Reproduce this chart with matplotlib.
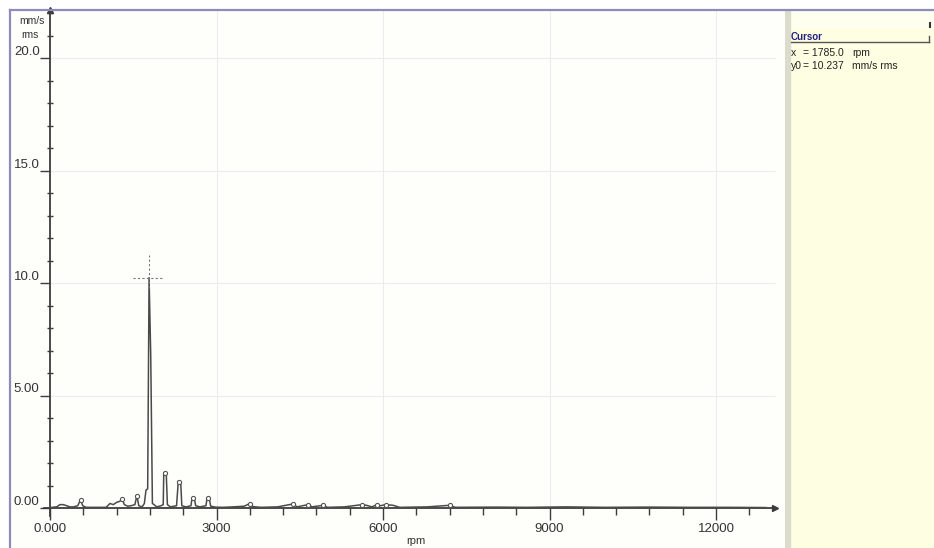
import numpy as np
import matplotlib
matplotlib.use("Agg")
import matplotlib.pyplot as plt
from matplotlib.lines import Line2D

plt.rcParams['font.family'] = ['Liberation Sans', 'DejaVu Sans']
plt.rcParams['ytick.alignment'] = 'bottom'

# ---- spectrum data (rpm vs. mm/s rms) ----
rpm = [0, 120, 180, 240, 300, 360, 420, 500, 550, 590, 650, 1000,
       1020, 1080, 1140, 1200, 1260, 1300, 1340, 1400, 1460, 1530, 1565, 1600,
       1660, 1700, 1730, 1760, 1785, 1815, 1845, 1875, 1920, 2000, 2040, 2050,
       2095, 2115, 2170, 2280, 2312, 2355, 2375, 2450, 2540, 2560, 2600, 2625,
       2700, 2810, 2830, 2870, 2895, 2980, 3100, 3300, 3500, 3600, 3660, 3800,
       4100, 4380, 4450, 4650, 4720, 4920, 5000, 5300, 5530, 5620, 5700, 5800,
       5890, 5950, 6050, 6180, 6300, 6800, 7200, 7300, 8000, 8600, 9300, 10000,
       10800, 11500, 12200, 12900]
amp = [0.02, 0.05, 0.15, 0.15, 0.10, 0.05, 0.05, 0.10, 0.37, 0.10, 0.03, 0.03,
       0.05, 0.20, 0.15, 0.25, 0.30, 0.40, 0.15, 0.08, 0.10, 0.15, 0.55, 0.10,
       0.05, 0.20, 0.80, 0.85, 10.237, 6.80, 0.20, 0.15, 0.05, 0.10, 0.15, 1.57,
       1.52, 0.15, 0.05, 0.10, 1.20, 1.15, 0.10, 0.05, 0.10, 0.45, 0.44, 0.10,
       0.05, 0.10, 0.44, 0.42, 0.08, 0.04, 0.03, 0.05, 0.08, 0.20, 0.06, 0.03,
       0.05, 0.18, 0.05, 0.15, 0.05, 0.12, 0.03, 0.05, 0.12, 0.15, 0.12, 0.05,
       0.15, 0.10, 0.15, 0.12, 0.03, 0.05, 0.12, 0.03, 0.04, 0.03, 0.05, 0.03,
       0.04, 0.03, 0.03, 0.02]
peak_marks = [550, 1300, 1565, 2072, 2333, 2580, 2850, 3600, 4380, 4650,
              4920, 5620, 5890, 6050, 7200]

cursor_rpm = 1785.0
cursor_amp = 10.237

x_major = [0, 3000, 6000, 9000, 12000]
x_major_labels = ['0.000', '3000', '6000', '9000', '12000']
y_major = [0, 5, 10, 15, 20]
y_major_labels = ['0.00', '5.00', '10.0', '15.0', '20.0']
x_unit = 'rpm'
y_unit = ['mm/s', 'rms']

# ---- figure layout (pixel based) ----
W, H = 934, 548
fig = plt.figure(figsize=(W / 100, H / 100), dpi=100, facecolor='white')

def fx(px):
    return px / W

def fy(py):
    return 1 - py / H

plot_left, plot_right, top = 10, 785, 10
ax = fig.add_axes([fx(plot_left), 0, fx(plot_right - plot_left), fy(top)])
ax.set_facecolor('#fefefa')

# scale: x=0 at px 50, 55.5 px per 1000 rpm; y=0 at px 508, 22.5 px per unit
x0_px, kx = 50, 55.5 / 1000
y0_px, ky = 508, 22.5
ax.set_xlim((plot_left - x0_px) / kx, (plot_right - x0_px) / kx)
ax.set_ylim((y0_px - H) / ky, (y0_px - top) / ky)
xmax_axis = 13060
ymax_axis = (y0_px - top) / ky

# light grid
ax.vlines(x_major[1:], 0, ymax_axis, color='#ececec', lw=0.8, zorder=0)
ax.hlines(y_major[1:], 0, xmax_axis, color='#ececec', lw=0.8, zorder=0)

# axes through origin
axis_col = '#3c3c3c'
for s in ['top', 'right']:
    ax.spines[s].set_visible(False)
ax.spines['left'].set_position(('data', 0))
ax.spines['bottom'].set_position(('data', 0))
ax.spines['left'].set_bounds(-0.35, ymax_axis)
ax.spines['bottom'].set_bounds(-100, xmax_axis)
for s in ['left', 'bottom']:
    ax.spines[s].set_color(axis_col)
    ax.spines[s].set_linewidth(1.3)
ax.plot([xmax_axis], [0], marker='>', ms=4.5, color=axis_col, clip_on=False, zorder=5)
ax.plot([0], [ymax_axis], marker='^', ms=4.5, color=axis_col, clip_on=False, zorder=5)

ax.set_xticks(x_major, x_major_labels)
ax.set_xticks(np.arange(0, 12601, 600), minor=True)
ax.set_yticks(y_major, y_major_labels)
ax.set_yticks(np.arange(0, 23, 1), minor=True)
ax.tick_params(axis='x', which='major', direction='out', length=8.5, width=1,
               color=axis_col, pad=2, labelsize=9.5, labelcolor='#333333')
ax.tick_params(axis='x', which='minor', direction='out', length=5, width=1,
               color=axis_col)
ax.tick_params(axis='y', which='major', direction='out', length=7.5, width=1,
               color=axis_col, pad=0, labelsize=9.5, labelcolor='#333333')
ax.tick_params(axis='y', which='minor', direction='inout', length=4.5, width=1,
               color=axis_col)

# spectrum
ax.plot(rpm, amp, color='#4a4a4a', lw=1.1, zorder=3)
ax.plot(peak_marks, np.interp(peak_marks, rpm, amp), ls='none', marker='o',
        ms=3, mfc='white', mec='#555555', mew=0.8, zorder=4)

# cursor crosshair
ax.plot([cursor_rpm - 290, cursor_rpm + 235], [cursor_amp, cursor_amp],
        color='#777777', lw=0.8, ls=(0, (2, 2)), zorder=4)
ax.plot([cursor_rpm, cursor_rpm], [cursor_amp - 0.45, cursor_amp + 1.0],
        color='#777777', lw=0.8, ls=(0, (2, 2)), zorder=4)

# unit labels
fig.text(fx(32), fy(21), y_unit[0], ha='center', va='center', fontsize=7.5,
         color='#333333')
fig.text(fx(30), fy(35), y_unit[1], ha='center', va='center', fontsize=7.5,
         color='#333333')
fig.text(fx(416), fy(536), x_unit, ha='center', va='top', fontsize=8,
         color='#333333')

# cursor readout panel
pan = fig.add_axes([fx(plot_right), 0, fx(W - plot_right), fy(top)])
pan.set_xlim(0, W - plot_right)
pan.set_ylim(H - top, 0)
pan.axis('off')
pan.add_patch(plt.Rectangle((0, 0), W - plot_right, H - top,
                            color='#fefee2', zorder=0))
pan.add_patch(plt.Rectangle((0, 0), W - plot_right, 18, color='#fffff0',
                            zorder=1))
pan.add_patch(plt.Rectangle((0, 0), 5, H - top, color='#dcdccc', zorder=2))
pan.text(6, 27, 'Cursor', fontsize=7, fontweight='bold', color='#202080',
         va='center', ha='left')
pan.plot([6, 144], [31.5, 31.5], color='#555555', lw=1)
pan.plot([144, 144], [31.5, 26], color='#555555', lw=1)
pan.plot([145, 145], [13, 17], color='#333333', lw=1.5)
rows = [('x', f'= {cursor_rpm:.1f}', 'rpm', 43),
        ('y0', f'= {cursor_amp:.3f}', 'mm/s rms', 56)]
for name, val, unit, yy in rows:
    pan.text(6, yy, name, fontsize=7.5, color='#222222', va='center')
    pan.text(18, yy, val, fontsize=7.5, color='#222222', va='center')
    pan.text(67, yy, unit, fontsize=7.5, color='#222222', va='center')

# outer frame
fig.add_artist(Line2D([fx(10), fx(W)], [fy(top), fy(top)], color='#8c8cbc',
                      lw=1.6))
fig.add_artist(Line2D([fx(10), fx(10)], [fy(top), 0], color='#8c8cbc', lw=1.6))

fig.savefig('out.png', dpi=100, facecolor='white')
